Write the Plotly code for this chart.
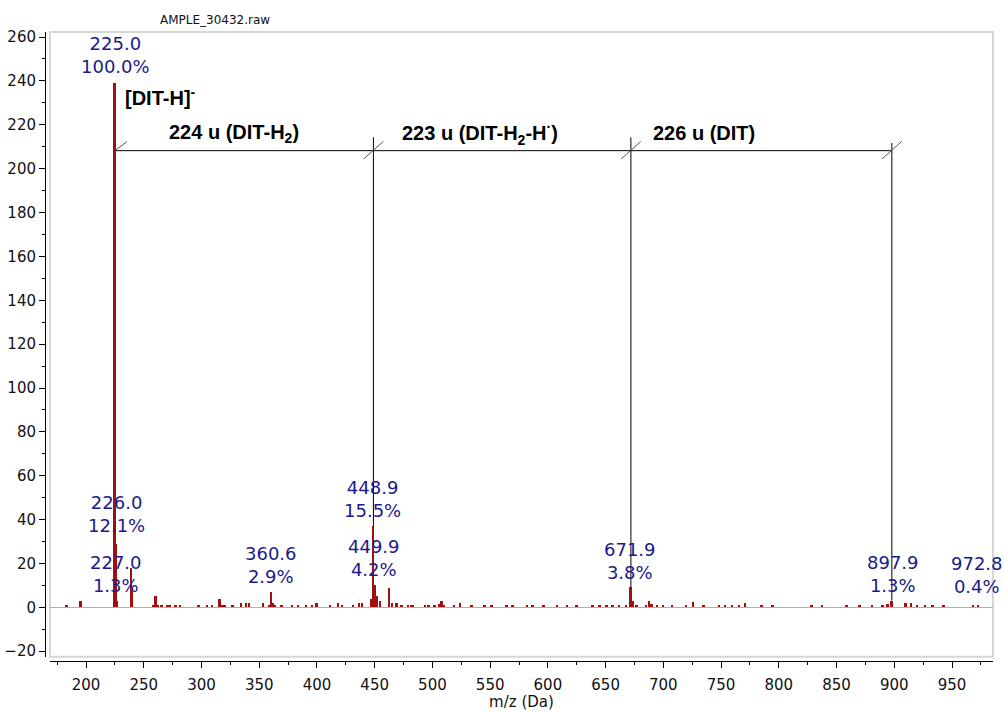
import plotly.graph_objects as go

# ---- data ----
peak_mz = [183.5, 195.4, 225.0, 226.0, 227.0, 239.0, 240.0, 258.0, 260.4, 262.0,
           265.5, 270.7, 272.7, 277.7, 281.4, 297.6, 304.8, 309.4, 316.0, 318.4,
           320.6, 327.0, 334.5, 338.6, 341.4, 353.6, 358.5, 360.6, 362.2, 363.5,
           369.5, 378.4, 383.9, 390.5, 396.0, 399.8, 411.3, 418.5, 422.0, 431.5,
           436.4, 439.0, 446.8, 448.9, 449.9, 452.0, 454.6, 462.4, 465.0, 469.1,
           473.4, 479.0, 481.5, 483.5, 494.0, 497.0, 502.0, 506.0, 508.0, 510.0,
           519.0, 524.0, 534.0, 545.5, 551.4, 564.3, 569.7, 582.0, 587.0, 596.6,
           608.0, 616.6, 625.0, 639.0, 645.0, 651.0, 656.0, 662.0, 668.0, 671.9,
           673.7, 677.0, 685.0, 687.6, 690.0, 694.5, 700.0, 707.5, 719.6, 725.7,
           735.0, 748.2, 753.4, 759.5, 765.5, 770.7, 785.4, 794.9, 828.7, 837.4,
           859.0, 870.0, 880.7, 890.0, 894.5, 897.9, 910.1, 914.5, 919.7, 926.6,
           933.5, 943.0, 968.6, 972.8]
peak_int = [1.0, 2.9, 239.0, 28.9, 3.1, 17.8, 9.0, 1.0, 5.0, 1.0,
            1.0, 1.0, 1.0, 1.0, 1.0, 1.0, 1.0, 1.0, 4.0, 1.2,
            1.0, 1.0, 2.0, 2.0, 2.0, 2.0, 1.2, 6.9, 2.0, 1.0,
            1.0, 1.0, 1.0, 1.0, 1.0, 2.0, 1.0, 2.0, 1.0, 1.0,
            2.0, 2.0, 4.0, 37.0, 10.0, 5.0, 3.0, 8.8, 2.0, 2.0,
            1.0, 1.0, 1.0, 1.0, 1.0, 1.0, 1.0, 1.5, 3.0, 1.0,
            1.0, 2.0, 1.0, 1.0, 1.0, 1.0, 1.0, 1.0, 1.0, 1.0,
            1.0, 1.0, 1.0, 1.0, 1.0, 1.0, 1.0, 1.0, 1.0, 9.1,
            3.0, 1.0, 1.0, 3.0, 1.5, 1.0, 1.0, 1.0, 1.0, 2.5,
            1.0, 1.0, 1.0, 1.0, 1.0, 2.0, 1.0, 1.0, 1.0, 1.0,
            1.0, 1.0, 1.0, 1.0, 1.5, 3.1, 2.0, 2.0, 1.0, 1.0,
            1.0, 1.0, 1.0, 1.0]

label_mz = [225.0, 226.0, 227.0, 360.6, 448.9, 449.9, 671.9, 897.9, 972.8]
label_pct = [100.0, 12.1, 1.3, 2.9, 15.5, 4.2, 3.8, 1.3, 0.4]

# label placement (layout, not data)
label_x = [225.1, 226.0, 226.0, 360.2, 448.2, 449.4, 671.0, 898.9, 972.0]
label_y = [251.6, 42.7, 15.3, 19.4, 49.5, 22.6, 21.0, 15.1, 14.6]

# mass-difference bracket
bracket_mz = [225.0, 448.9, 671.9, 897.9]
bracket_peak = [239.0, 37.0, 9.1, 3.1]
bracket_top = [None, 214.3, 214.3, 211.7]
bracket_level = 208.2
diff_labels = ["224 u (DIT-H<sub>2</sub>)", "223 u (DIT-H<sub>2</sub>-H<sup>·</sup>)", "226 u (DIT)"]
diff_label_x = [269.9, 471.8, 688.9]
diff_label_y = 216.1

ion_label = "[DIT-H]<sup>-</sup>"

y_ticks = [-20, 0, 20, 40, 60, 80, 100, 120, 140, 160, 180, 200, 220, 240, 260]
x_ticks = [200, 250, 300, 350, 400, 450, 500, 550, 600, 650, 700, 750, 800, 850, 900, 950]

PEAK_COLOR = "#a01010"
LABEL_COLOR = "#1a1a8a"
TICK_FONT = dict(family="DejaVu Sans", size=15, color="#111111")

fig = go.Figure()
fig.add_trace(go.Bar(x=peak_mz, y=peak_int, width=1.7,
                     marker=dict(color=PEAK_COLOR, line=dict(width=0)),
                     hoverinfo="x+y", showlegend=False))

shapes = []
# frame
shapes.append(dict(type="rect", xref="x domain", yref="y domain", x0=0, x1=1, y0=0, y1=1,
                   line=dict(color="#d6d6d6", width=2), layer="below"))
# horizontal bracket line
shapes.append(dict(type="line", xref="x", yref="y", x0=bracket_mz[0], x1=bracket_mz[-1],
                   y0=bracket_level, y1=bracket_level, line=dict(color="black", width=1)))
for i, (m, pk, tp) in enumerate(zip(bracket_mz, bracket_peak, bracket_top)):
    if tp is not None:
        shapes.append(dict(type="line", xref="x", yref="y", x0=m, x1=m, y0=pk, y1=tp,
                           line=dict(color="black", width=1)))
        shapes.append(dict(type="line", xref="x", yref="y", x0=m - 8.5, x1=m + 8.5,
                           y0=bracket_level - 3.8, y1=bracket_level + 4.2,
                           line=dict(color="#555555", width=1)))
    else:
        shapes.append(dict(type="line", xref="x", yref="y", x0=m, x1=m + 10.4,
                           y0=bracket_level, y1=bracket_level + 4.1,
                           line=dict(color="#555555", width=1)))

annotations = []
for m, p, lx, ly in zip(label_mz, label_pct, label_x, label_y):
    annotations.append(dict(x=lx, y=ly, xref="x", yref="y", showarrow=False,
                            text=f"{m:.1f}<br>{p:.1f}%", xanchor="center", yanchor="middle",
                            font=dict(family="DejaVu Sans", size=18, color=LABEL_COLOR)))
bold_font = dict(family="Liberation Sans, Arial", size=20, color="black")
for t, lx in zip(diff_labels, diff_label_x):
    annotations.append(dict(x=lx, y=diff_label_y, xref="x", yref="y", showarrow=False,
                            text=f"<b>{t}</b>", xanchor="left", yanchor="middle", font=bold_font))
annotations.append(dict(x=232.0, y=232.8, xref="x", yref="y", showarrow=False,
                        text=f"<b>{ion_label}</b>", xanchor="left", yanchor="middle", font=bold_font))
annotations.append(dict(x=0.179, y=1.019, xref="paper", yref="paper", showarrow=False,
                        text="AMPLE_30432.raw", xanchor="center", yanchor="middle",
                        font=dict(family="DejaVu Sans", size=12, color="#111111")))

fig.update_layout(
    width=1004, height=711,
    margin=dict(l=45, r=11, t=32, b=50),
    paper_bgcolor="white", plot_bgcolor="white",
    bargap=0,
    shapes=shapes, annotations=annotations,
    xaxis=dict(domain=[0.00527, 1], range=[168.8, 985.5], anchor="free", position=0,
               automargin=False,
               tickvals=x_ticks, ticks="outside", ticklen=6, tickcolor="black",
               ticklabelstandoff=4,
               minor=dict(dtick=25, tick0=175, ticks="outside", ticklen=3, tickcolor="black"),
               showline=True, linecolor="black", linewidth=1, showgrid=False, zeroline=False,
               tickfont=TICK_FONT,
               title=dict(text="m/z (Da)", standoff=4,
                          font=dict(family="DejaVu Sans", size=15, color="#111111"))),
    yaxis=dict(domain=[0.0068, 1], range=[-22.5, 262.3], anchor="free", position=0,
               automargin=False,
               tickvals=y_ticks, ticks="outside", ticklen=6, tickcolor="black",
               minor=dict(dtick=10, tick0=-10, ticks="outside", ticklen=3, tickcolor="black"),
               showline=True, linecolor="black", linewidth=1, showgrid=False,
               zeroline=True, zerolinecolor="#b0b0b0", zerolinewidth=1,
               tickfont=TICK_FONT),
)

fig.write_html("out.html", config={"displayModeBar": False},
               post_script="document.body.style.margin='0';document.body.style.overflow='hidden';")
